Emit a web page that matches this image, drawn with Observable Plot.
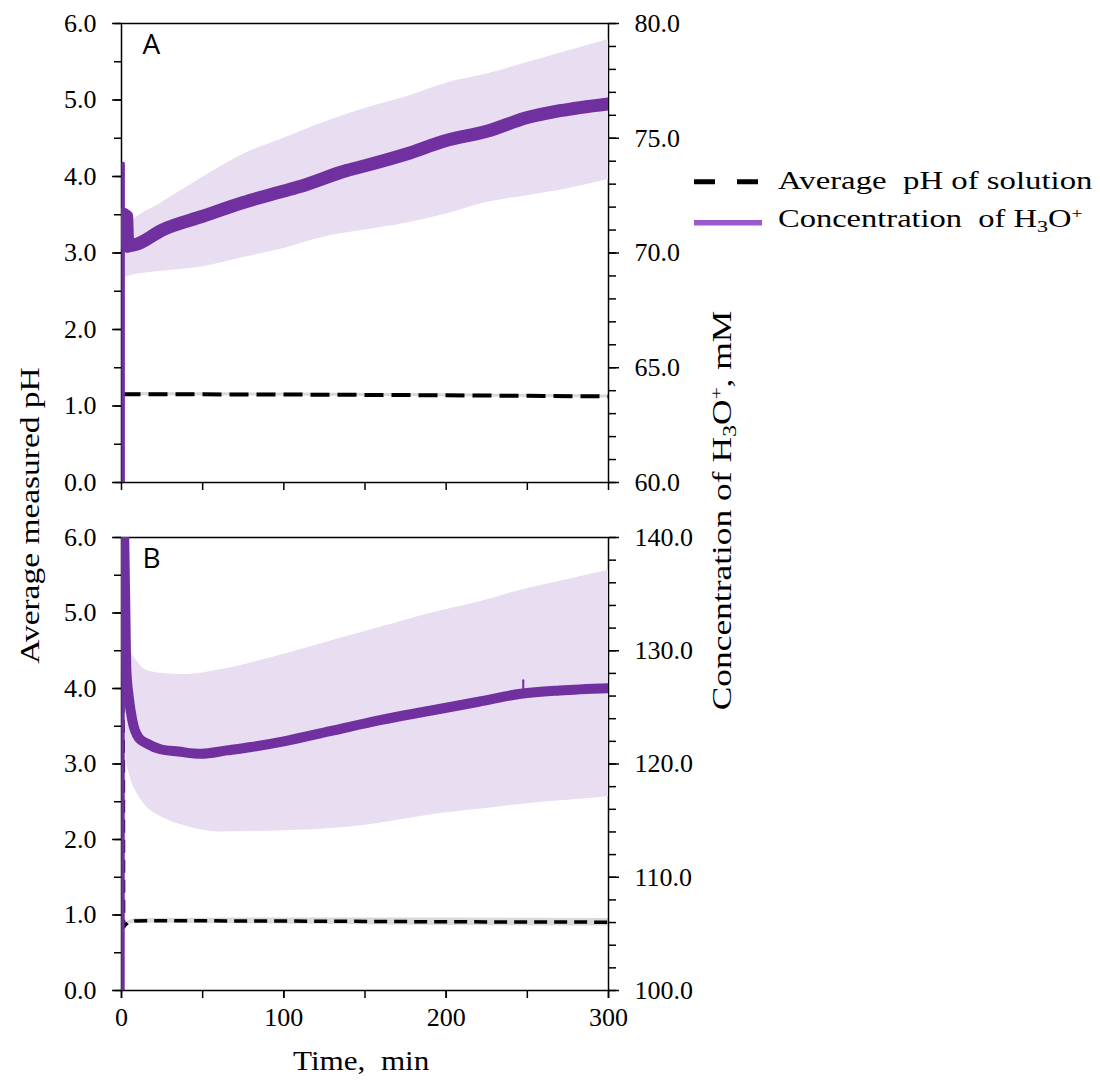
<!DOCTYPE html>
<html>
<head>
<meta charset="utf-8">
<script src="https://cdn.jsdelivr.net/npm/d3@7"></script>
<script src="https://cdn.jsdelivr.net/npm/@observablehq/plot@0.6"></script>
<style>
  body { margin: 0; background: #fff; }
  #fig { position: relative; width: 1100px; height: 1080px; background: #fff; }
  #fig svg.layer { position: absolute; left: 0; }
  #fig svg.layer text.serif { font-family: "Liberation Serif", "Times New Roman", serif !important; }
  .t { position: absolute; white-space: pre; font-family: "Liberation Serif", "Times New Roman", serif; color: #000; line-height: 1; }
  .sub { font-size: 0.68em; position: relative; top: 0.28em; }
  .sup { font-size: 0.6em; position: relative; top: -0.55em; }
</style>
</head>
<body>
<div id="fig"></div>
<script>
// ---------- ticks ----------
const xTicksMajor = [0, 100, 200, 300];
const xTicksMinor = [0, 50, 100, 150, 200, 250, 300];
const phTicksMajor = [0, 1, 2, 3, 4, 5, 6];
const phTicksMinor = [0, 0.5, 1, 1.5, 2, 2.5, 3, 3.5, 4, 4.5, 5, 5.5, 6];
const concTicksMajorA = [60, 65, 70, 75, 80];
const concTicksMinorA = [60, 61, 62, 63, 64, 65, 66, 67, 68, 69, 70, 71, 72, 73, 74, 75, 76, 77, 78, 79, 80];
const concTicksMajorB = [100, 110, 120, 130, 140];
const concTicksMinorB = [100, 102, 104, 106, 108, 110, 112, 114, 116, 118, 120, 122, 124, 126, 128, 130, 132, 134, 136, 138, 140];

// ---------- Panel A ----------
const spikeTimeA = [1, 1];
const spikeConcA = [60, 73.9];
const shoulderTimeA = [1, 3.2, 3.8];
const shoulderConcA = [71.7, 71.6, 70.3];
const lineTimeA = [3.8, 10, 25, 50, 75, 100, 110, 139, 150, 175, 200, 225, 250, 270, 300];
const lineConcA = [70.3, 70.4, 71.0, 71.6, 72.2, 72.7, 72.9, 73.6, 73.8, 74.3, 74.9, 75.3, 75.9, 76.2, 76.5];
const bandTimeA = [1, 5, 25, 50, 75, 100, 125, 150, 175, 200, 225, 250, 275, 300];
const bandLowA  = [68.9, 69.0, 69.2, 69.4, 69.8, 70.2, 70.7, 71.0, 71.3, 71.7, 72.2, 72.5, 72.8, 73.2];
const bandHighA = [71.0, 71.3, 72.2, 73.3, 74.3, 75.0, 75.7, 76.3, 76.8, 77.4, 77.8, 78.3, 78.8, 79.3];
const phTimeA = [0, 100, 200, 300];
const phA     = [1.155, 1.15, 1.14, 1.125];
const phSdA   = [0.02, 0.02, 0.02, 0.02];

// ---------- Panel B ----------
const spikeTimeB = [0.9, 0.9];
const spikeConcB = [100, 141];
const lineTimeB = [1.6, 2.2, 3.0, 4.5, 6.6, 10.7, 15.8, 24, 35, 49, 65, 80, 100, 128.6, 160, 190, 220, 246, 270, 300];
const lineConcB = [140.7, 135.3, 128.3, 125.9, 123.9, 122.3, 121.8, 121.3, 121.1, 120.9, 121.2, 121.5, 122.0, 122.9, 123.9, 124.7, 125.5, 126.2, 126.5, 126.7];
const blipTimeB = [247.5, 247.5];
const blipConcB = [126.2, 127.4];
const bandTimeB = [1.6, 3, 5, 10, 15, 25, 40, 60, 100, 130, 160, 190, 220, 250, 275, 300];
const bandLowB  = [130.0, 120.3, 119.0, 117.3, 116.3, 115.3, 114.5, 114.0, 114.1, 114.3, 114.8, 115.5, 116.0, 116.5, 116.8, 117.1];
const bandHighB = [137.3, 132.3, 130.3, 129.0, 128.3, 128.0, 127.9, 128.3, 129.7, 130.9, 132.1, 133.3, 134.3, 135.5, 136.3, 137.1];
const phTimeB = [0.9, 1.3, 2, 4, 8, 20, 100, 200, 300];
const phB     = [6.5, 0.84, 0.86, 0.9, 0.92, 0.925, 0.92, 0.91, 0.905];
const phSdB   = [0, 0, 0.02, 0.025, 0.03, 0.03, 0.04, 0.05, 0.05];

// ---------- helpers ----------
const zipRows = (keys, arrays) => arrays[0].map((_, i) => Object.fromEntries(keys.map((k, j) => [k, arrays[j][i]])));
const fig = document.getElementById("fig");
const PURPLE = "#7030a0";
const BAND = "#e9ddf2";
const W = 1100, ML = 121, MR = 492;
const baseStyle = { fontSize: "26px", color: "black", background: "transparent", overflow: "visible" };

function serifize(svg) {
  svg.querySelectorAll("text").forEach(t => { if (!t.closest(".letter")) t.classList.add("serif"); });
}

function phLayer({ top, height, mt, mb, t, ph, sd, dash, dashW, xLabels }) {
  const rows = zipRows(["t", "ph", "sd"], [t, ph, sd]).map(d => ({ ...d, lo: d.ph - d.sd, hi: d.ph + d.sd }));
  const marks = [
    Plot.areaY(rows, { x: "t", y1: "lo", y2: "hi", fill: "#d9d9d9", clip: true }),
    Plot.line(rows, { x: "t", y: "ph", stroke: "black", strokeWidth: dashW, strokeDasharray: dash, strokeLinecap: "butt", clip: true }),
    Plot.axisY({ ticks: phTicksMinor, tickSize: 7, text: null, label: null, strokeWidth: 1.5 }),
    Plot.axisY({ ticks: phTicksMajor, tickSize: 9, tickPadding: 16, tickFormat: d => d.toFixed(1), label: null, strokeWidth: 1.5, fontSize: 26 }),
    Plot.axisX({ ticks: xTicksMinor, tickSize: 8, text: null, label: null, strokeWidth: 1.5 }),
    Plot.frame({ stroke: "black", strokeWidth: 1.5 })
  ];
  if (xLabels) marks.push(Plot.axisX({ ticks: xTicksMajor, tickSize: 8, tickPadding: 9, tickFormat: d => String(d), label: null, strokeWidth: 1.5, fontSize: 26 }));
  const svg = Plot.plot({
    width: W, height, marginLeft: ML, marginRight: MR, marginTop: mt, marginBottom: mb,
    x: { domain: [0, 300], label: null },
    y: { domain: [0, 6], label: null },
    style: baseStyle,
    marks
  });
  serifize(svg);
  svg.classList.add("layer");
  svg.style.top = top + "px";
  fig.appendChild(svg);
}

function concLayer({ top, height, mt, mb, domain, major, minor, spikeT, spikeC, shT, shC, lineT, lineC, lineW, bandT, bandLo, bandHi, blipT, blipC, letter }) {
  const band = zipRows(["t", "lo", "hi"], [bandT, bandLo, bandHi]);
  const spike = zipRows(["t", "c"], [spikeT, spikeC]);
  const shoulder = shT ? zipRows(["t", "c"], [shT, shC]) : [];
  const line = zipRows(["t", "c"], [lineT, lineC]);
  const blip = blipT ? zipRows(["t", "c"], [blipT, blipC]) : [];
  const svg = Plot.plot({
    width: W, height, marginLeft: ML, marginRight: MR, marginTop: mt, marginBottom: mb,
    x: { domain: [0, 300], label: null, axis: null },
    y: { domain, label: null },
    style: baseStyle,
    marks: [
      Plot.areaY(band, { x: "t", y1: "lo", y2: "hi", fill: BAND, curve: "monotone-x", clip: true }),
      Plot.line(spike, { x: "t", y: "c", stroke: PURPLE, strokeWidth: 3.5, clip: true }),
      Plot.line(shoulder, { x: "t", y: "c", stroke: PURPLE, strokeWidth: lineW, clip: true }),
      Plot.line(line, { x: "t", y: "c", stroke: PURPLE, strokeWidth: lineW, curve: "monotone-x", clip: true }),
      Plot.line(blip, { x: "t", y: "c", stroke: PURPLE, strokeWidth: 2, clip: true }),
      Plot.axisY({ anchor: "right", ticks: minor, tickSize: 7, text: null, label: null, strokeWidth: 1.5 }),
      Plot.axisY({ anchor: "right", ticks: major, tickSize: 10, tickPadding: 16, tickFormat: d => d.toFixed(1), label: null, strokeWidth: 1.5, fontSize: 26 }),
      Plot.text([letter], { text: d => d, frameAnchor: "top-left", dx: 21, dy: 11, lineAnchor: "top", textAnchor: "start", fontSize: 28, fontFamily: "Open Sans", fill: "black", className: "letter" })
    ]
  });
  serifize(svg);
  svg.classList.add("layer");
  svg.style.top = top + "px";
  fig.appendChild(svg);
}

// Panel A (plot area y 23..482)
phLayer({ top: 0, height: 510, mt: 23, mb: 28, t: phTimeA, ph: phA, sd: phSdA, dash: "19,8", dashW: 4, xLabels: false });
concLayer({ top: 0, height: 510, mt: 23, mb: 28, domain: [60, 80], major: concTicksMajorA, minor: concTicksMinorA,
  spikeT: spikeTimeA, spikeC: spikeConcA, shT: shoulderTimeA, shC: shoulderConcA, lineT: lineTimeA, lineC: lineConcA, lineW: 13,
  bandT: bandTimeA, bandLo: bandLowA, bandHi: bandHighA, letter: "A" });

// Panel B (plot area y 537..990)
phLayer({ top: 510, height: 570, mt: 27, mb: 90, t: phTimeB, ph: phB, sd: phSdB, dash: "13,7", dashW: 3.5, xLabels: true });
concLayer({ top: 510, height: 570, mt: 27, mb: 90, domain: [100, 140], major: concTicksMajorB, minor: concTicksMinorB,
  spikeT: spikeTimeB, spikeC: spikeConcB, lineT: lineTimeB, lineC: lineConcB, lineW: 10,
  bandT: bandTimeB, bandLo: bandLowB, bandHi: bandHighB, blipT: blipTimeB, blipC: blipConcB, letter: "B" });

// ---------- text overlays (axis titles, legend) ----------
function addText(html, o) {
  const el = document.createElement("div");
  el.className = "t";
  el.innerHTML = html;
  el.style.fontSize = o.size + "px";
  fig.appendChild(el);
  const w = el.offsetWidth, h = el.offsetHeight;
  const k = o.target ? o.target / w : 1;
  if (o.rotate) {
    el.style.left = (o.cx - w / 2) + "px";
    el.style.top = (o.cy - h / 2) + "px";
    el.style.transform = `rotate(-90deg) scaleX(${k})`;
  } else {
    el.style.transformOrigin = "0 0";
    el.style.left = (o.cx != null ? o.cx - w * k / 2 : o.left) + "px";
    el.style.top = o.top + "px";
    el.style.transform = `scaleX(${k})`;
  }
}

addText("Average measured pH", { size: 27, rotate: true, cx: 30, cy: 515, target: 296 });
addText('Concentration of H<span class="sub">3</span>O<span class="sup">+</span>, mM', { size: 27, rotate: true, cx: 722, cy: 510, target: 400 });
addText("Time,  min", { size: 27, cx: 361, top: 1048, target: 136 });

// legend
const lg = document.createElementNS("http://www.w3.org/2000/svg", "svg");
lg.setAttribute("width", 80); lg.setAttribute("height", 80);
lg.style.position = "absolute"; lg.style.left = "690px"; lg.style.top = "160px";
lg.innerHTML = '<line x1="4" x2="72" y1="21.7" y2="21.7" stroke="black" stroke-width="5" stroke-dasharray="21,22"/>' +
               '<line x1="4" x2="72" y1="62.7" y2="62.7" stroke="#9b59d0" stroke-width="5.5"/>';
fig.appendChild(lg);
addText("Average  pH of solution", { size: 26, left: 778, top: 168, target: 314 });
addText('Concentration  of H<span class="sub">3</span>O<span class="sup">+</span>', { size: 26, left: 778, top: 206, target: 305 });
</script>
</body>
</html>
